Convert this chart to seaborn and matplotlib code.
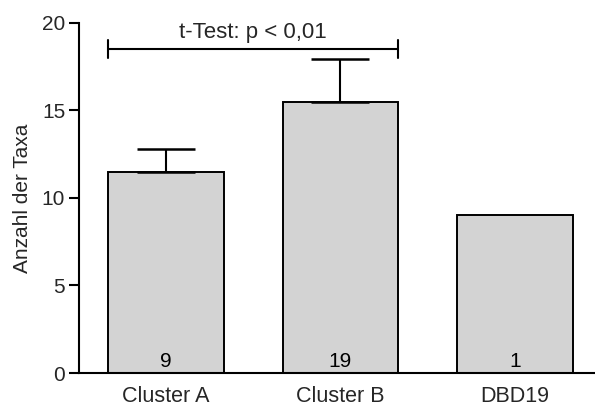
import matplotlib
matplotlib.use("Agg")
import matplotlib.pyplot as plt
import seaborn as sns
import pandas as pd
import numpy as np

groups = ["Cluster A", "Cluster B", "DBD19"]
mean_taxa = [11.45, 15.5, 9.0]
upper_err = [1.35, 2.4, 0.0]
n_samples = [9, 19, 1]
test_label = "t-Test: p < 0,01"
bracket_y = 18.5

sns.set_theme(style="white")
plt.rcParams["font.family"] = ["Liberation Sans", "DejaVu Sans"]

df = pd.DataFrame({"Gruppe": groups, "Taxa": mean_taxa})

fig = plt.figure(figsize=(5.95, 4.05), dpi=100)
ax = fig.add_axes([0.1328, 0.079, 0.8672, 0.865])

bar_w = 0.663
sns.barplot(data=df, x="Gruppe", y="Taxa", ax=ax, color="#d3d3d3",
            saturation=1, width=bar_w, edgecolor="black", linewidth=1.4,
            errorbar=None)

# upper-only error bars where a spread exists
xs = np.arange(len(groups))
for x, m, e in zip(xs, mean_taxa, upper_err):
    if e > 0:
        ax.errorbar([x], [m], yerr=[[0], [e]], fmt="none", ecolor="black",
                    elinewidth=1.5, capsize=21, capthick=1.8, zorder=3)

# sample counts inside bars
for x, n in zip(xs, n_samples):
    ax.text(x, 0.36, str(n), ha="center", va="baseline", fontsize=15, color="black")

# significance bracket between Cluster A and Cluster B
half = bar_w / 2
x0, x1 = xs[0] - half, xs[1] + half
ax.plot([x0, x1], [bracket_y, bracket_y], color="black", lw=1.5, clip_on=False)
for xe in (x0, x1):
    ax.plot([xe, xe], [bracket_y - 0.5, bracket_y + 0.5], color="black", lw=1.5, clip_on=False)
ax.text((x0 + x1) / 2, bracket_y + 0.6, test_label, ha="center", va="baseline", fontsize=16)

ax.set_ylim(0, 20)
ax.set_xlim(-0.5, 2.46)
ax.set_yticks([0, 5, 10, 15, 20])
ax.set_xlabel("")
ax.set_ylabel("Anzahl der Taxa", fontsize=15, labelpad=7)
ax.tick_params(axis="y", which="both", left=True, length=7.5, width=1.5, labelsize=15, pad=2.5, color="black")
ax.tick_params(axis="x", bottom=False, length=0, labelsize=15.5, pad=9)
sns.despine(ax=ax, top=True, right=True)
for s in ("left", "bottom"):
    ax.spines[s].set_linewidth(1.5)
    ax.spines[s].set_color("black")

fig.savefig("out.png", dpi=100)
